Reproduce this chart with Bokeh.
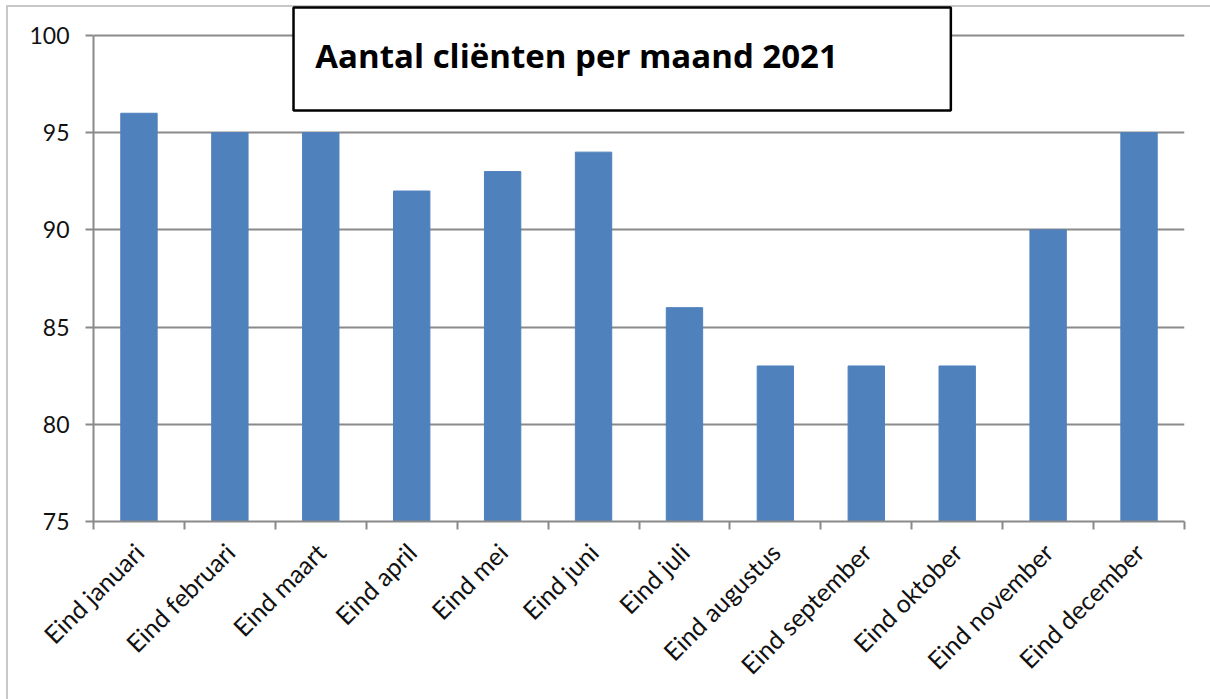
import math
from bokeh.plotting import figure
from bokeh.models import FixedTicker, BoxAnnotation, Label, Range1d
from bokeh.embed import file_html
from bokeh.resources import INLINE

months = ["Eind januari", "Eind februari", "Eind maart", "Eind april", "Eind mei",
          "Eind juni", "Eind juli", "Eind augustus", "Eind september", "Eind oktober",
          "Eind november", "Eind december"]
clients = [96, 95, 95, 92, 93, 94, 86, 83, 83, 83, 90, 95]
y_ticks = [75, 80, 85, 90, 95, 100]
title_text = "Aantal cliënten per maand 2021"

n = len(months)
xpos = [i + 0.5 for i in range(n)]

FONT = "Lato"
GRAY = "#8a8a8a"

# frame: y 75..100 spans 486 px; extend a little above 100 so the title box fits inside
px_per_unit = 486 / 25.0
y_top = 100 + 30 / px_per_unit

p = figure(width=1210, height=699, output_backend="svg", toolbar_location=None,
           x_range=Range1d(0, n), y_range=Range1d(75, y_top),
           min_border_left=93, min_border_right=26, min_border_top=5, min_border_bottom=178,
           styles={"box-shadow": "inset 6px 5px 0 0 #ffffff, inset 8px 7px 0 0 #c8c8c8",
                   "background-color": "white"})
p.outline_line_color = None
p.background_fill_color = None
p.border_fill_color = None

p.vbar(x=xpos, top=clients, bottom=75, width=0.4, color="#4F81BD")

# y axis
p.yaxis.ticker = FixedTicker(ticks=y_ticks)
p.yaxis.bounds = (75, 100)
p.yaxis.axis_line_color = GRAY
p.yaxis.axis_line_width = 2
p.yaxis.major_tick_line_color = GRAY
p.yaxis.major_tick_line_width = 2
p.yaxis.major_tick_out = 8
p.yaxis.major_tick_in = 0
p.yaxis.minor_tick_line_color = None
p.yaxis.major_label_text_font = FONT
p.yaxis.major_label_text_font_size = "23px"
p.yaxis.major_label_text_color = "#111111"
p.yaxis.major_label_standoff = 16
p.ygrid.grid_line_color = GRAY
p.ygrid.grid_line_width = 2
p.ygrid.ticker = FixedTicker(ticks=y_ticks)

# x axis
p.xaxis.ticker = FixedTicker(ticks=xpos, minor_ticks=list(range(n + 1)))
p.xaxis.major_label_overrides = {x: m for x, m in zip(xpos, months)}
p.xaxis.major_label_orientation = math.pi / 4
p.xaxis.axis_line_color = GRAY
p.xaxis.axis_line_width = 2
p.xaxis.major_tick_line_color = None
p.xaxis.minor_tick_line_color = GRAY
p.xaxis.minor_tick_line_width = 2
p.xaxis.minor_tick_out = 8
p.xaxis.minor_tick_in = 0
p.xaxis.major_label_text_font = FONT
p.xaxis.major_label_text_font_size = "25px"
p.xaxis.major_label_text_color = "#111111"
p.xaxis.major_label_standoff = 18
p.xgrid.grid_line_color = None

# title box
box = BoxAnnotation(left=2.20, right=9.43, bottom=96.14, top=101.44,
                    fill_color="white", fill_alpha=1.0,
                    line_color="black", line_alpha=1.0, line_width=2.5)
p.add_layout(box)
lab = Label(x=2.44, y=98.97, text=title_text, text_font="Open Sans", text_font_style="bold",
            text_font_size="33px", text_color="black", text_align="left",
            text_baseline="alphabetic")
p.add_layout(lab)

open("out.html", "w").write(file_html(p, INLINE))
